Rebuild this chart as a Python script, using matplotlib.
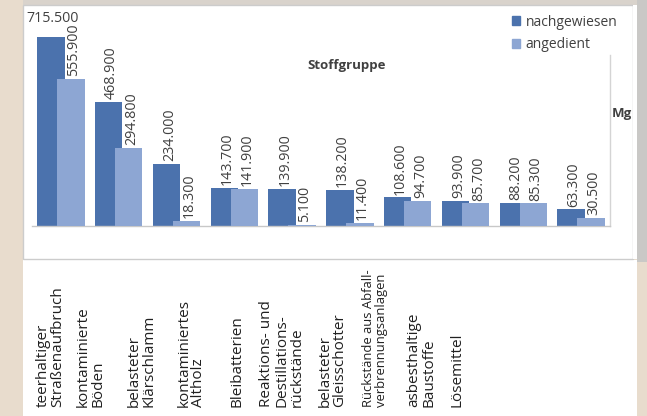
import matplotlib
matplotlib.use("Agg")
import matplotlib.pyplot as plt
from matplotlib.patches import Rectangle, Patch
import numpy as np

categories = [
    "teerhaltiger\nStraßenaufbruch",
    "kontaminierte\nBöden",
    "belasteter\nKlärschlamm",
    "kontaminiertes\nAltholz",
    "Bleibatterien",
    "Reaktions- und\nDestillations-\nrückstände",
    "belasteter\nGleisschotter",
    "Rückstände aus Abfall-\nverbrennungsanlagen",
    "asbesthaltige\nBaustoffe",
    "Lösemittel",
]
nachgewiesen = [715.5, 468.9, 234.0, 143.7, 139.9, 138.2, 108.6, 93.9, 88.2, 63.3]
angedient = [555.9, 294.8, 18.3, 141.9, 5.1, 11.4, 94.7, 85.7, 85.3, 30.5]
series_names = ["nachgewiesen", "angedient"]
title = "Stoffgruppe"
unit = "Mg"

# layout (pixels)
W, H = 647, 416
label_x_px = [50.5, 90.5, 141.5, 191.5, 237, 282, 332.5, 375, 421, 457]
label_small = [False, False, False, False, False, False, False, True, False, False]

plt.rcParams['font.family'] = ['Open Sans', 'DejaVu Sans']
dark = '#4b72ad'
light = '#8da6d3'
txt = '#404040'

fig = plt.figure(figsize=(W / 100, H / 100), dpi=100)
fig.patch.set_facecolor('#e8dccd')

def fx(px):
    return px / W

def fy(py):
    return 1 - py / H

# background pieces
fig.patches.append(Rectangle((fx(637), fy(262)), fx(10), 262 / H, transform=fig.transFigure,
                             facecolor='#c9c8c6', edgecolor='none', zorder=0))
fig.patches.append(Rectangle((fx(23), fy(5)), fx(614), 5 / H, transform=fig.transFigure,
                             facecolor='#d9d3cc', edgecolor='none', zorder=0))
# white panels
fig.patches.append(Rectangle((fx(23), fy(416)), fx(614), 156 / H, transform=fig.transFigure,
                             facecolor='white', edgecolor='none', zorder=0))
fig.patches.append(Rectangle((fx(23), fy(259)), fx(610), 254 / H, transform=fig.transFigure,
                             facecolor='white', edgecolor='#cccccc', linewidth=1.0, zorder=0.5))
fig.patches.append(Rectangle((fx(633), fy(259)), fx(4), 254 / H, transform=fig.transFigure,
                             facecolor='white', edgecolor='none', zorder=0.5))

ax = fig.add_axes([fx(32), fy(226), fx(578), 216 / H])
ax.set_zorder(3)
ax.set_facecolor('none')
x = np.arange(len(categories))
bw = 0.475
off = 0.173
b1 = ax.bar(x - off, nachgewiesen, bw, color=dark, zorder=2, label=series_names[0])
b2 = ax.bar(x + off, angedient, bw, color=light, zorder=3, label=series_names[1])
ax.set_xlim(-0.5, len(categories) - 0.5)
ax.set_ylim(0, 818)
for s in ['top', 'left', 'right']:
    ax.spines[s].set_visible(False)
ax.spines['bottom'].set_color('#c8c8c8')
ax.spines['bottom'].set_linewidth(1.0)
ax.set_xticks([])
ax.set_yticks([])
ax.axvline(len(categories) - 0.5, ymin=0, ymax=0.79, color='#d4d4d4', lw=1.0, clip_on=False)

def fmt(v):
    return f"{v:.3f}"

for i, (v1, v2) in enumerate(zip(nachgewiesen, angedient)):
    for xv, v in ((i - off, v1), (i + off, v2)):
        if v > 700:
            ax.annotate(fmt(v), (xv, v), xytext=(1, 8), textcoords='offset points',
                        ha='center', va='bottom', fontsize=10.3, color=txt, zorder=5)
        else:
            ax.annotate(fmt(v), (xv, v), xytext=(2, 2), textcoords='offset points',
                        ha='center', va='bottom', rotation=90, fontsize=10.3, color=txt, zorder=5)

fig.text(fx(347), fy(65), title, ha='center', va='center', fontsize=9.5, fontweight='bold', color=txt)
fig.text(fx(612), fy(113), unit, ha='left', va='center', fontsize=9.5, fontweight='bold', color=txt)

handles = [Patch(color=dark), Patch(color=light)]
fig.legend(handles, series_names, loc='upper left', bbox_to_anchor=(fx(499), fy(2)),
           frameon=False, fontsize=10, handlelength=0.6, handleheight=0.6,
           handletextpad=0.4, labelspacing=0.55, labelcolor=txt)

for lab, px, small in zip(categories, label_x_px, label_small):
    fig.text(fx(px), fy(407), lab, rotation=90, ha='center', va='bottom',
             multialignment='left', fontsize=9.4 if small else 11, color='#202020',
             linespacing=1.0)

fig.savefig('out.png', dpi=100, facecolor=fig.get_facecolor())
